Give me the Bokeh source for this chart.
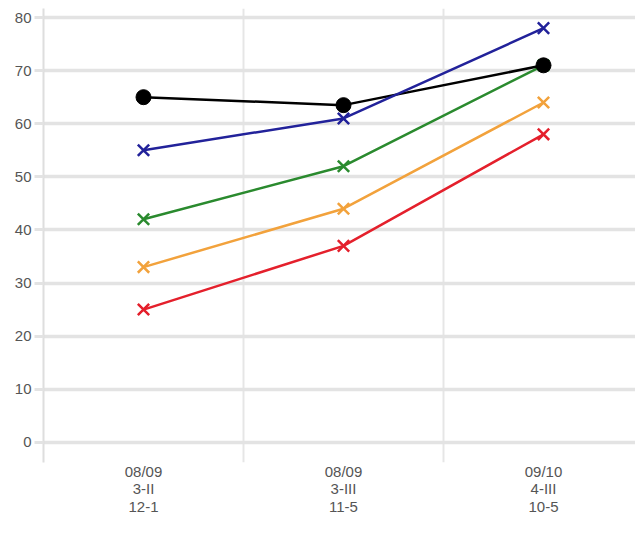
from bokeh.plotting import figure
from bokeh.models import FixedTicker, Range1d
from bokeh.embed import file_html
from bokeh.resources import INLINE

categories = ["08/09\n3-II\n12-1", "08/09\n3-III\n11-5", "09/10\n4-III\n10-5"]
x_pos = [0, 1, 2]
series_black = [65, 63.5, 71]
series_blue = [55, 61, 78]
series_green = [42, 52, 71]
series_orange = [33, 44, 64]
series_red = [25, 37, 58]
y_ticks = [0, 10, 20, 30, 40, 50, 60, 70, 80]

FONT = "Liberation Sans"

p = figure(width=635, height=530, output_backend="svg", toolbar_location=None,
           x_range=Range1d(-0.5, 2.46), y_range=Range1d(-3.8, 81.7),
           min_border_left=43, min_border_right=0, min_border_top=8, min_border_bottom=68)
p.outline_line_color = None
p.background_fill_color = "white"

# grids
p.ygrid.ticker = FixedTicker(ticks=y_ticks)
p.ygrid.grid_line_color = "#e3e3e3"
p.ygrid.grid_line_width = 3.5
p.xgrid.ticker = FixedTicker(ticks=[0.5, 1.5])
p.xgrid.grid_line_color = "#e6e6e6"
p.xgrid.grid_line_width = 2

# y axis
p.yaxis.ticker = FixedTicker(ticks=y_ticks)
p.yaxis.axis_line_color = "#dedede"
p.yaxis.axis_line_width = 2
p.yaxis.major_tick_line_color = "#e3e3e3"
p.yaxis.major_tick_line_width = 3
p.yaxis.major_tick_out = 9
p.yaxis.major_tick_in = 0
p.yaxis.minor_tick_line_color = None
p.yaxis.major_label_text_font = FONT
p.yaxis.major_label_text_font_size = "15px"
p.yaxis.major_label_text_color = "#555555"
p.yaxis.major_label_standoff = 3

# x axis
p.xaxis.ticker = FixedTicker(ticks=x_pos)
p.xaxis.major_label_overrides = {x: c for x, c in zip(x_pos, categories)}
p.xaxis.axis_line_color = None
p.xaxis.major_tick_line_color = None
p.xaxis.major_tick_out = 0
p.xaxis.major_tick_in = 0
p.xaxis.minor_tick_line_color = None
p.xaxis.major_label_text_font = FONT
p.xaxis.major_label_text_font_size = "15px"
p.xaxis.major_label_text_line_height = 1.05
p.xaxis.major_label_text_color = "#555555"
p.xaxis.major_label_standoff = 0

# series
p.line(x_pos, series_red, line_color="#e4202c", line_width=2.5)
p.scatter(x_pos, series_red, marker="x", size=16, line_color="#e4202c", line_width=2.5)
p.line(x_pos, series_orange, line_color="#f2a23c", line_width=2.5)
p.scatter(x_pos, series_orange, marker="x", size=16, line_color="#f2a23c", line_width=2.5)
p.line(x_pos, series_green, line_color="#2a8a2e", line_width=2.5)
p.scatter(x_pos, series_green, marker="x", size=16, line_color="#2a8a2e", line_width=2.5)
p.line(x_pos, series_black, line_color="#000000", line_width=2.5)
p.scatter(x_pos, series_black, marker="circle", size=15, fill_color="#000000", line_color="#000000")
p.line(x_pos, series_blue, line_color="#22229a", line_width=2.5)
p.scatter(x_pos, series_blue, marker="x", size=16, line_color="#22229a", line_width=2.5)

open("out.html", "w").write(file_html(p, INLINE))
